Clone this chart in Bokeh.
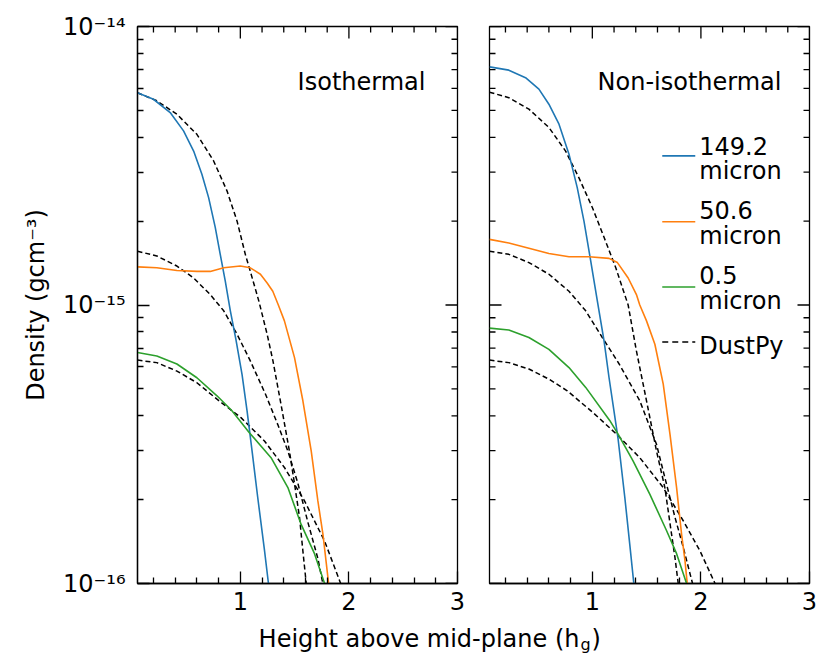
from bokeh.plotting import figure
from bokeh.models import Range1d, FixedTicker, CustomJSTickFormatter, Label
from bokeh.layouts import row, column
from bokeh.embed import file_html
from bokeh.resources import INLINE

FONT = "DejaVu Sans"

# ---------------- axes / ticks ----------------
X_RANGE = (0.053, 3.0)
Y_RANGE = (1e-16, 1e-14)
X_TICKS = [1, 2, 3]
X_MINOR = [0.2, 0.4, 0.6, 0.8, 1.2, 1.4, 1.6, 1.8, 2.2, 2.4, 2.6, 2.8]
Y_TICKS = [1e-16, 1e-15, 1e-14]
Y_TICK_LABELS = ["10\u207b\u00b9\u2076", "10\u207b\u00b9\u2075", "10\u207b\u00b9\u2074"]
Y_MINOR = [2e-16, 3e-16, 4e-16, 5e-16, 6e-16, 7e-16, 8e-16, 9e-16,
           2e-15, 3e-15, 4e-15, 5e-15, 6e-15, 7e-15, 8e-15, 9e-15]

COLORS = ["#1f77b4", "#ff7f0e", "#2ca02c"]
LEGEND_LABELS = [["149.2", "micron"], ["50.6", "micron"], ["0.5", "micron"], ["DustPy"]]

# ---------------- isothermal panel ----------------
ISO_Z_149 = [0.053, 0.2, 0.354, 0.477, 0.57, 0.646, 0.708, 0.769, 0.815, 0.861, 0.908, 0.96, 1.016, 1.062, 1.11, 1.16, 1.222, 1.259]
ISO_RHO_149 = [5.78e-15, 5.48e-15, 4.91e-15, 4.22e-15, 3.57e-15, 2.95e-15, 2.43e-15, 1.90e-15, 1.52e-15, 1.22e-15,
               9.53e-16, 7.50e-16, 5.62e-16, 4.17e-16, 2.95e-16, 2.04e-16, 1.32e-16, 1.0e-16]
ISO_Z_50 = [0.053, 0.231, 0.416, 0.6, 0.723, 0.847, 1.0, 1.092, 1.185, 1.247, 1.299, 1.35, 1.406, 1.499, 1.576, 1.653, 1.714, 1.761, 1.813]
ISO_RHO_50 = [1.37e-15, 1.36e-15, 1.33e-15, 1.32e-15, 1.32e-15, 1.36e-15, 1.38e-15, 1.36e-15, 1.29e-15, 1.20e-15,
              1.12e-15, 1.0e-15, 8.77e-16, 6.47e-16, 4.53e-16, 2.99e-16, 1.98e-16, 1.50e-16, 1.0e-16]
ISO_Z_05 = [0.053, 0.231, 0.416, 0.6, 0.785, 0.923, 1.083, 1.283, 1.438, 1.56, 1.683, 1.776]
ISO_RHO_05 = [6.75e-16, 6.56e-16, 6.14e-16, 5.48e-16, 4.72e-16, 4.17e-16, 3.48e-16, 2.83e-16, 2.21e-16, 1.63e-16, 1.28e-16, 1.0e-16]
ISO_DP_Z_149 = [0.053, 0.231, 0.416, 0.6, 0.754, 0.877, 0.97, 1.046, 1.092, 1.17, 1.247, 1.30, 1.376, 1.452, 1.499, 1.545, 1.576, 1.607]
ISO_DP_RHO_149 = [5.78e-15, 5.41e-15, 4.84e-15, 4.10e-15, 3.29e-15, 2.57e-15, 2.00e-15, 1.52e-15, 1.32e-15, 1.035e-15,
                  7.85e-16, 6.31e-16, 4.37e-16, 2.99e-16, 2.28e-16, 1.73e-16, 1.31e-16, 1.0e-16]
ISO_DP_Z_50 = [0.053, 0.231, 0.416, 0.57, 0.723, 0.847, 0.97, 1.092, 1.231, 1.345, 1.438, 1.53, 1.622, 1.714, 1.76]
ISO_DP_RHO_50 = [1.56e-15, 1.50e-15, 1.38e-15, 1.25e-15, 1.09e-15, 9.53e-16, 7.85e-16, 6.30e-16, 4.79e-16, 3.72e-16,
                 2.99e-16, 2.29e-16, 1.66e-16, 1.23e-16, 1.0e-16]
ISO_DP_Z_05 = [0.053, 0.231, 0.416, 0.6, 0.785, 1.006, 1.222, 1.406, 1.591, 1.776, 1.924]
ISO_DP_RHO_05 = [6.34e-16, 6.21e-16, 5.79e-16, 5.26e-16, 4.59e-16, 3.94e-16, 3.25e-16, 2.61e-16, 1.98e-16, 1.42e-16, 1.0e-16]

# ---------------- non-isothermal panel ----------------
NONISO_Z_149 = [0.053, 0.231, 0.385, 0.508, 0.6, 0.693, 0.785, 0.861, 0.923, 0.985, 1.046, 1.108, 1.154, 1.237, 1.299, 1.345, 1.382]
NONISO_RHO_149 = [7.16e-15, 6.97e-15, 6.55e-15, 5.96e-15, 5.26e-15, 4.46e-15, 3.48e-15, 2.64e-15, 2.00e-15, 1.44e-15,
                  1.035e-15, 7.43e-16, 5.48e-16, 3.31e-16, 2.04e-16, 1.38e-16, 1.0e-16]
NONISO_Z_50 = [0.053, 0.231, 0.416, 0.6, 0.785, 0.97, 1.154, 1.231, 1.33, 1.406, 1.437, 1.499, 1.576, 1.653, 1.715, 1.776, 1.822, 1.853, 1.874]
NONISO_RHO_50 = [1.72e-15, 1.67e-15, 1.60e-15, 1.53e-15, 1.49e-15, 1.49e-15, 1.47e-15, 1.42e-15, 1.25e-15, 1.09e-15,
                 1.0e-15, 8.77e-16, 7.23e-16, 5.20e-16, 3.44e-16, 2.21e-16, 1.50e-16, 1.21e-16, 1.0e-16]
NONISO_Z_05 = [0.053, 0.231, 0.416, 0.6, 0.785, 0.939, 1.16, 1.237, 1.376, 1.53, 1.683, 1.776, 1.868]
NONISO_RHO_05 = [8.26e-16, 8.13e-16, 7.64e-16, 6.93e-16, 5.96e-16, 5.06e-16, 3.85e-16, 3.44e-16, 2.75e-16, 2.09e-16,
                 1.55e-16, 1.28e-16, 1.0e-16]
NONISO_DP_Z_149 = [0.053, 0.231, 0.416, 0.6, 0.754, 0.877, 1.0, 1.108, 1.216, 1.283, 1.33, 1.406, 1.499, 1.591, 1.668, 1.73, 1.761, 1.791]
NONISO_DP_RHO_149 = [5.81e-15, 5.55e-15, 5.05e-15, 4.34e-15, 3.57e-15, 2.86e-15, 2.24e-15, 1.75e-15, 1.36e-15, 1.135e-15,
                     1.0e-15, 6.84e-16, 4.53e-16, 2.99e-16, 2.21e-16, 1.50e-16, 1.24e-16, 1.0e-16]
NONISO_DP_Z_50 = [0.053, 0.231, 0.416, 0.6, 0.785, 0.939, 1.092, 1.247, 1.437, 1.591, 1.668, 1.761, 1.837, 1.923]
NONISO_DP_RHO_50 = [1.56e-15, 1.52e-15, 1.42e-15, 1.29e-15, 1.12e-15, 9.53e-16, 7.64e-16, 6.14e-16, 4.53e-16, 3.16e-16,
                    2.40e-16, 1.73e-16, 1.35e-16, 1.0e-16]
NONISO_DP_Z_05 = [0.053, 0.231, 0.416, 0.6, 0.769, 1.006, 1.222, 1.437, 1.653, 1.837, 1.991, 2.13]
NONISO_DP_RHO_05 = [6.34e-16, 6.21e-16, 5.89e-16, 5.42e-16, 4.92e-16, 4.11e-16, 3.44e-16, 2.83e-16, 2.21e-16, 1.68e-16,
                    1.31e-16, 1.0e-16]

PANEL_TITLES = ["Isothermal", "Non-isothermal"]
X_LABEL_MAIN = "Height above mid-plane (h"
X_LABEL_SUB = "g"
X_LABEL_END = ")"
Y_LABEL = "Density (gcm\u207b\u00b3)"

# text / legend placement (data units of the panels)
TITLE_Y = 6.31e-15
LEG_X0, LEG_X1, LEG_TX = 1.644, 1.948, 1.985
LEG_LINE_Y = [3.43e-15, 1.99e-15, 1.16e-15, 7.36e-16]
LEG_TEXT_Y = [[3.72e-15, 3.02e-15], [2.19e-15, 1.77e-15], [1.28e-15, 1.034e-15], [7.12e-16]]

Y_FORMAT = CustomJSTickFormatter(args=dict(yt=Y_TICKS, yl=Y_TICK_LABELS), code="""
for (let i = 0; i < yt.length; i++) {
  if (Math.abs(Math.log10(tick) - Math.log10(yt[i])) < 1e-6) { return yl[i]; }
}
return "";
""")

LW = 1.3


def style_axis(ax, ticker):
    ax.ticker = ticker
    ax.major_tick_in = 12
    ax.major_tick_out = 0
    ax.minor_tick_in = 6
    ax.minor_tick_out = 0
    for pre in ("axis_line", "major_tick_line", "minor_tick_line"):
        setattr(ax, pre + "_color", "black")
        setattr(ax, pre + "_width", LW)
    ax.major_label_text_font = FONT
    ax.major_label_text_color = "black"
    ax.major_label_text_font_size = "24px"


def edge_ticks(p, left):
    # inward ticks on the frame edges that carry no labels
    top = Y_RANGE[1]
    rgt = X_RANGE[1]
    lft = X_RANGE[0]
    for vals, ln in ((X_TICKS, 12), (X_MINOR, 6)):
        p.ray(x=vals, y=[top] * len(vals), length=ln, length_units="screen", angle=-90,
              angle_units="deg", line_color="black", line_width=LW)
    for vals, ln in ((Y_TICKS, 12), (Y_MINOR, 6)):
        p.ray(x=[rgt] * len(vals), y=vals, length=ln, length_units="screen", angle=180,
              angle_units="deg", line_color="black", line_width=LW)
        if not left:
            p.ray(x=[lft] * len(vals), y=vals, length=ln, length_units="screen", angle=0,
                  angle_units="deg", line_color="black", line_width=LW)


def make_panel(series, dashed, title, title_x, min_left, min_right, width, first):
    p = figure(width=width, height=619, x_range=Range1d(*X_RANGE), y_range=Range1d(*Y_RANGE),
               y_axis_type="log", output_backend="svg", toolbar_location=None,
               y_axis_location="left" if first else None,
               min_border_left=min_left, min_border_right=min_right,
               min_border_top=26, min_border_bottom=36)
    p.grid.visible = False
    p.outline_line_color = "black"
    p.outline_line_width = LW
    p.background_fill_color = "white"
    p.border_fill_color = "white"

    style_axis(p.xaxis[0], FixedTicker(ticks=X_TICKS, minor_ticks=X_MINOR))
    p.xaxis[0].major_label_standoff = 8
    if first:
        ya = p.yaxis[0]
        style_axis(ya, FixedTicker(ticks=Y_TICKS, minor_ticks=Y_MINOR))
        ya.formatter = Y_FORMAT
        ya.major_label_standoff = 12
        ya.axis_label = Y_LABEL
        ya.axis_label_text_font = FONT
        ya.axis_label_text_font_size = "24px"
        ya.axis_label_text_font_style = "normal"
        ya.axis_label_text_color = "black"
        ya.axis_label_standoff = 10
    edge_ticks(p, first)

    for (z, rho) in dashed:
        p.line(z, rho, line_color="black", line_width=1.5, line_dash="5 3")
    for (z, rho), c in zip(series, COLORS):
        p.line(z, rho, line_color=c, line_width=1.6)

    p.add_layout(Label(x=title_x, y=TITLE_Y, text=title, text_align="right",
                       text_baseline="alphabetic", text_font=FONT, text_font_size="24px",
                       text_color="black"))

    if not first:
        styles = [dict(line_color=c, line_width=1.6) for c in COLORS]
        styles.append(dict(line_color="black", line_width=1.5, line_dash="6 4"))
        for i, st in enumerate(styles):
            p.line([LEG_X0, LEG_X1], [LEG_LINE_Y[i], LEG_LINE_Y[i]], **st)
            for txt, ty in zip(LEGEND_LABELS[i], LEG_TEXT_Y[i]):
                p.add_layout(Label(x=LEG_TX, y=ty, text=txt, text_align="left",
                                   text_baseline="alphabetic", text_font=FONT,
                                   text_font_size="24px", text_color="black"))
    return p


p1 = make_panel([(ISO_Z_149, ISO_RHO_149), (ISO_Z_50, ISO_RHO_50), (ISO_Z_05, ISO_RHO_05)],
                [(ISO_DP_Z_149, ISO_DP_RHO_149), (ISO_DP_Z_50, ISO_DP_RHO_50), (ISO_DP_Z_05, ISO_DP_RHO_05)],
                PANEL_TITLES[0], 2.705, 137, 15, 472, True)
p2 = make_panel([(NONISO_Z_149, NONISO_RHO_149), (NONISO_Z_50, NONISO_RHO_50), (NONISO_Z_05, NONISO_RHO_05)],
                [(NONISO_DP_Z_149, NONISO_DP_RHO_149), (NONISO_DP_Z_50, NONISO_DP_RHO_50), (NONISO_DP_Z_05, NONISO_DP_RHO_05)],
                PANEL_TITLES[1], 2.742, 17, 22, 359, False)

# x-axis title strip (page pixel coordinates, y measured up from the strip bottom)
lab = figure(width=831, height=50, x_range=Range1d(0, 831), y_range=Range1d(0, 50),
             output_backend="svg", toolbar_location=None, min_border=0,
             x_axis_location=None, y_axis_location=None)
lab.outline_line_color = None
lab.grid.visible = False
XL = 579
lab.add_layout(Label(x=XL, y=31, text=X_LABEL_MAIN, text_align="right", text_baseline="alphabetic",
                     text_font=FONT, text_font_size="24px", text_color="black"))
lab.add_layout(Label(x=XL + 1, y=25, text=X_LABEL_SUB, text_align="left", text_baseline="alphabetic",
                     text_font=FONT, text_font_size="16px", text_color="black"))
lab.add_layout(Label(x=XL + 12, y=31, text=X_LABEL_END, text_align="left", text_baseline="alphabetic",
                     text_font=FONT, text_font_size="24px", text_color="black"))

layout = column(row(p1, p2), lab)
open("out.html", "w").write(file_html(layout, INLINE))
